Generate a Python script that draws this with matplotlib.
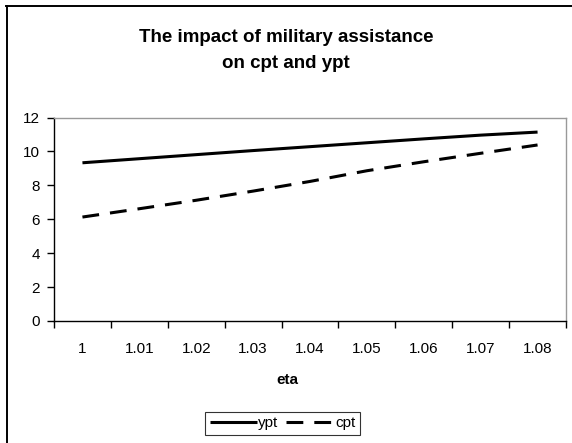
import matplotlib
matplotlib.use("Agg")
import matplotlib.pyplot as plt
from matplotlib.lines import Line2D
import numpy as np

plt.rcParams['font.family'] = ['Liberation Sans', 'DejaVu Sans']

eta = ['1', '1.01', '1.02', '1.03', '1.04', '1.05', '1.06', '1.07', '1.08']
ypt = [9.33, 9.57, 9.81, 10.05, 10.28, 10.51, 10.74, 10.96, 11.14]
cpt = [6.13, 6.62, 7.12, 7.66, 8.23, 8.86, 9.39, 9.89, 10.38]

W, H = 572, 443
fig = plt.figure(figsize=(W / 100, H / 100), dpi=100)

# plot area in pixels: left 54, right 566, top 117.5, bottom 321
ax = fig.add_axes([54 / W, 1 - 321 / H, 512 / W, 203.5 / H])

x = np.arange(len(eta))
ax.plot(x, ypt, color='black', lw=2.2, label='ypt', solid_capstyle='butt')
ax.plot(x, cpt, color='black', lw=2.2, label='cpt', dashes=(5.5, 3.6),
        dash_capstyle='butt')

ax.set_xlim(-0.5, len(eta) - 0.5)
ax.set_ylim(0, 12)
ax.set_yticks(np.arange(0, 13, 2))

# ticks at category borders, labels at centres
ax.set_xticks(np.arange(-0.5, len(eta), 1.0))
ax.set_xticklabels([])
ax.set_xticks(x, minor=True)
ax.set_xticklabels(eta, minor=True)
ax.tick_params(axis='x', which='major', direction='out', length=5, width=1, color='black')
ax.tick_params(axis='x', which='minor', length=0, pad=15, labelsize=11)
ax.tick_params(axis='y', direction='out', length=5, width=1, pad=5, labelsize=11)

for side in ['top', 'right']:
    ax.spines[side].set_color('#999999')
    ax.spines[side].set_linewidth(1)
for side in ['left', 'bottom']:
    ax.spines[side].set_color('black')
    ax.spines[side].set_linewidth(1)

fig.text(0.5, 1 - 38 / H, 'The impact of military assistance', ha='center', va='center',
         fontsize=13.5, fontweight='bold')
fig.text(0.5, 1 - 63 / H, 'on cpt and ypt', ha='center', va='center',
         fontsize=13.5, fontweight='bold')
fig.text(287 / W, 1 - 380 / H, 'eta', ha='center', va='center', fontsize=11, fontweight='bold')

leg = fig.legend(loc='center', bbox_to_anchor=(282.5 / W, 1 - 423.5 / H), ncol=2,
                 fontsize=11, frameon=True, fancybox=False, edgecolor='black',
                 handlelength=3.1, handletextpad=0.1, columnspacing=0.5,
                 borderpad=0.3, borderaxespad=0)
leg.get_frame().set_linewidth(0.8)

# chart-area border (top and left visible)
fig.add_artist(Line2D([6 / W, 1], [1 - 5.5 / H, 1 - 5.5 / H], color='black', lw=1.4,
                      transform=fig.transFigure))
fig.add_artist(Line2D([6.5 / W, 6.5 / W], [0, 1 - 5.5 / H], color='black', lw=1.4,
                      transform=fig.transFigure))

fig.savefig('out.png', dpi=100)
